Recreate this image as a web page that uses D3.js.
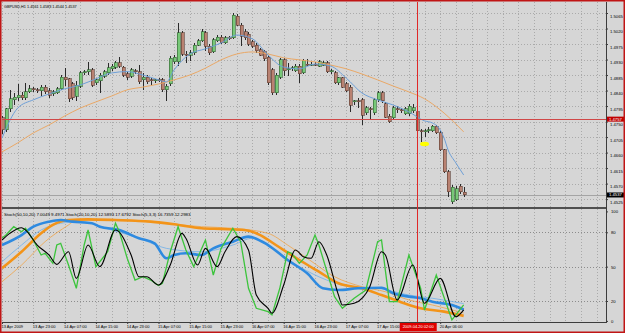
<!DOCTYPE html>
<html>
<head>
<meta charset="utf-8">
<script src="https://cdn.jsdelivr.net/npm/d3@7/dist/d3.min.js"></script>
<style>
  body { margin: 0; background: #fff; }
  svg { display: block; font-family: "Liberation Sans", "DejaVu Sans", sans-serif; }
</style>
</head>
<body>
<svg id="chart" width="625" height="333"></svg>
<script>
// GBPUSD H1 candles, one value per bar (bar 0 = 13 Apr 2009)
const opens = [1.4761,1.4726,1.4787,1.4813,1.4819,1.4827,1.4819,1.4836,1.4845,1.4842,
  1.4839,1.4850,1.4839,1.4830,1.4833,1.4845,1.4879,1.4874,1.4859,1.4824,
  1.4853,1.4891,1.4894,1.4900,1.4862,1.4868,1.4882,1.4891,1.4903,1.4908,
  1.4920,1.4908,1.4888,1.4882,1.4897,1.4894,1.4871,1.4879,1.4871,1.4868,
  1.4871,1.4871,1.4842,1.4859,1.4923,1.4923,1.5007,1.4946,1.4943,1.4949,
  1.4972,1.4984,1.5007,1.4969,1.4952,1.4984,1.4995,1.4978,1.4993,1.4993,
  1.5056,1.5030,1.5010,1.5004,1.4981,1.4972,1.4958,1.4952,1.4937,1.4900,
  1.4833,1.4879,1.4929,1.4900,1.4903,1.4897,1.4911,1.4891,1.4917,1.4914,
  1.4917,1.4911,1.4914,1.4920,1.4894,1.4891,1.4862,1.4877,1.4859,1.4850,
  1.4807,1.4810,1.4813,1.4775,1.4787,1.4775,1.4813,1.4833,1.4801,1.4766,
  1.4761,1.4787,1.4784,1.4772,1.4772,1.4781,1.4778,1.4723,1.4720,1.4723,
  1.4723,1.4737,1.4717,1.4668,1.4604,1.4517,1.4523,1.4563,1.4545];
const highs = [1.4766,1.4790,1.4842,1.4833,1.4859,1.4836,1.4862,1.4856,1.4850,1.4848,
  1.4856,1.4856,1.4848,1.4842,1.4850,1.4885,1.4905,1.4877,1.4865,1.4868,
  1.4897,1.4900,1.4923,1.4906,1.4877,1.4891,1.4900,1.4920,1.4917,1.4926,
  1.4937,1.4911,1.4894,1.4906,1.4903,1.4914,1.4891,1.4885,1.4877,1.4874,
  1.4877,1.4877,1.4859,1.4940,1.4943,1.5036,1.5013,1.4955,1.4958,1.4978,
  1.4990,1.5019,1.5013,1.4975,1.4993,1.5001,1.5001,1.4998,1.4998,1.5065,
  1.5062,1.5036,1.5019,1.5010,1.4987,1.4978,1.4964,1.4958,1.4943,1.4906,
  1.4891,1.4935,1.4935,1.4920,1.4911,1.4917,1.4917,1.4932,1.4932,1.4923,
  1.4923,1.4929,1.4926,1.4926,1.4903,1.4897,1.4879,1.4879,1.4865,1.4856,
  1.4813,1.4819,1.4819,1.4795,1.4792,1.4819,1.4839,1.4839,1.4807,1.4772,
  1.4795,1.4795,1.4790,1.4792,1.4801,1.4801,1.4790,1.4729,1.4729,1.4734,
  1.4740,1.4740,1.4723,1.4671,1.4610,1.4566,1.4563,1.4569,1.4561];
const lows = [1.4714,1.4720,1.4778,1.4798,1.4810,1.4813,1.4813,1.4833,1.4836,1.4833,
  1.4824,1.4830,1.4819,1.4824,1.4830,1.4842,1.4853,1.4807,1.4813,1.4810,
  1.4848,1.4885,1.4885,1.4850,1.4856,1.4833,1.4877,1.4885,1.4897,1.4903,
  1.4906,1.4879,1.4871,1.4877,1.4888,1.4859,1.4842,1.4859,1.4856,1.4862,
  1.4865,1.4836,1.4810,1.4853,1.4917,1.4911,1.4940,1.4920,1.4926,1.4943,
  1.4969,1.4981,1.4955,1.4943,1.4949,1.4981,1.4975,1.4975,1.4987,1.4990,
  1.5027,1.4969,1.4987,1.4969,1.4964,1.4949,1.4940,1.4926,1.4856,1.4827,
  1.4827,1.4874,1.4882,1.4882,1.4897,1.4894,1.4862,1.4888,1.4911,1.4911,
  1.4911,1.4908,1.4911,1.4891,1.4888,1.4859,1.4856,1.4848,1.4836,1.4778,
  1.4798,1.4790,1.4740,1.4769,1.4755,1.4769,1.4807,1.4804,1.4761,1.4746,
  1.4755,1.4775,1.4775,1.4769,1.4766,1.4775,1.4717,1.4691,1.4705,1.4717,
  1.4720,1.4714,1.4665,1.4601,1.4531,1.4511,1.4520,1.4540,1.4530];
const closes = [1.4726,1.4787,1.4816,1.4821,1.4827,1.4819,1.4836,1.4845,1.4842,1.4839,
  1.4850,1.4836,1.4827,1.4836,1.4845,1.4879,1.4871,1.4816,1.4819,1.4856,
  1.4891,1.4894,1.4900,1.4856,1.4871,1.4885,1.4894,1.4906,1.4911,1.4920,
  1.4911,1.4885,1.4879,1.4900,1.4894,1.4865,1.4879,1.4865,1.4869,1.4871,
  1.4870,1.4842,1.4853,1.4934,1.4937,1.5007,1.4946,1.4943,1.4949,1.4972,
  1.4984,1.5010,1.4969,1.4949,1.4987,1.4995,1.4978,1.4993,1.4990,1.5059,
  1.5030,1.4998,1.4993,1.4975,1.4969,1.4955,1.4943,1.4932,1.4862,1.4833,
  1.4885,1.4929,1.4897,1.4903,1.4906,1.4911,1.4888,1.4926,1.4914,1.4917,
  1.4914,1.4923,1.4920,1.4894,1.4897,1.4862,1.4877,1.4850,1.4839,1.4798,
  1.4810,1.4807,1.4769,1.4790,1.4784,1.4813,1.4833,1.4810,1.4763,1.4749,
  1.4790,1.4784,1.4781,1.4787,1.4795,1.4790,1.4723,1.4720,1.4723,1.4726,
  1.4737,1.4717,1.4668,1.4604,1.4546,1.4560,1.4555,1.4546,1.4537];

// moving averages, [bar, price]
const maFast = [[0,1.4702],[4,1.4789],[8,1.4813],[12,1.4830],[16,1.4845],[20,1.4856],[24,1.4874],
  [28,1.4891],[32,1.4895],[36,1.4885],[40,1.4871],[42,1.4865],[44,1.4900],[48,1.4946],[52,1.4961],
  [56,1.4978],[60,1.5001],[64,1.4990],[68,1.4943],[72,1.4908],[76,1.4903],[80,1.4917],[84,1.4911],
  [88,1.4876],[92,1.4833],[96,1.4813],[100,1.4798],[104,1.4778],[108,1.4752],[110,1.4746],
  [112,1.4726],[113,1.4702],[114,1.4668],[116,1.4630],[118,1.4595]];
const maSlow = [[0,1.4662],[4,1.4688],[8,1.4717],[12,1.4740],[16,1.4766],[20,1.4789],[24,1.4807],
  [28,1.4824],[32,1.4842],[36,1.4850],[40,1.4859],[44,1.4871],[48,1.4885],[52,1.4905],[56,1.4929],
  [60,1.4946],[64,1.4952],[68,1.4946],[72,1.4935],[76,1.4929],[80,1.4923],[84,1.4914],[88,1.4903],
  [92,1.4888],[96,1.4871],[100,1.4853],[104,1.4836],[108,1.4816],[112,1.4784],[116,1.4743],[118,1.4720]];

// stochastics, [bar, value]
const stochSlowMain = [[0,48.6],[5,63],[10,79.1],[13,86.4],[17,90.7],[22,91.3],[29,90.7],[38,89.3],
  [44,87],[51,83.5],[56,82.9],[62,82],[66,77.6],[70,68.9],[76,55.8],[81,45.6],[86,35.5],[92,31.1],
  [97,25.2],[102,19],[107,13.6],[113,10.7],[118,7.0]];
const stochSlowSig = [[0,36.9],[5,51.4],[11,71.8],[17,86.4],[19,90.7],[38,89],[51,84.9],[59,83.5],
  [68,79.1],[73,68.9],[78,57.3],[85,41.2],[92,32.5],[98,28.1],[104,20.9],[110,16.5],[118,9.5]];
const stochMidMain = [[0,68.9],[5,77.6],[8,84.9],[12,89.3],[15,90.7],[18,89.3],[23,87.9],[25,84.9],
  [30,82],[35,74.8],[39,70.4],[42,57.3],[44,60.2],[47,61.7],[51,60.2],[54,66],[59,71.8],[63,76.2],
  [68,68.9],[73,55.8],[78,44.2],[82,31.1],[86,29.6],[91,31.1],[97,31.6],[100,26.7],[104,23.8],
  [107,22.4],[110,19.4],[115,16.5],[118,12.6]];
const stochMidSig = [[0,54.3],[5,68.9],[10,82],[15,87.9],[20,89.3],[28,82],[35,74.8],[42,66],[51,63],
  [59,68.9],[64,74.8],[69,66],[76,50],[83,38.3],[89,32.5],[96,31.1],[104,25.2],[110,22.4],[118,17.7]];
const stochFastMain = [[0,75],[1,77.6],[3,84.9],[5,80.5],[6,83.5],[8,73.3],[10,60.2],[11,61.7],
  [13,52.9],[14,68.9],[15,70.4],[17,51.4],[19,31.1],[21,68.9],[22,82],[24,50],[27,63],[29,87.9],
  [30,80.5],[32,57.3],[34,38.3],[36,41.2],[38,38.3],[40,33.5],[41,35.5],[43,63],[45,84.9],[47,64.5],
  [49,50],[52,73.3],[54,42.7],[56,66],[59,83.5],[61,71.8],[63,31.1],[65,13.6],[68,10.7],[69,7.8],
  [71,31.1],[73,63],[74,61.7],[76,52.9],[78,60.2],[80,77.6],[81,68.9],[85,23.8],[87,13.6],[90,22.4],
  [93,29.6],[96,71.8],[97,73.3],[99,19.4],[101,19.4],[104,60.2],[107,31.1],[108,12.1],[111,42.7],
  [115,3.4],[118,16.7]];
const stochFastSig = [[0,73.3],[2,79.1],[5,84],[6,82],[9,68.9],[12,60.2],[14,52],[17,63],[19,39.8],
  [22,68.9],[25,50],[29,82],[33,60.2],[35,41.2],[37,41.2],[40,34],[43,51.4],[46,79.1],[47,74.8],
  [50,51.4],[52,66],[55,50],[57,63],[60,76.2],[63,64.5],[65,25.2],[68,13.6],[69,9.3],[72,34],
  [75,64.5],[77,58.7],[79,57.3],[81,71.8],[83,60.2],[86,25.2],[87,16.5],[90,18],[94,32.5],[97,63],
  [98,60.2],[101,20.9],[105,51.4],[108,18],[112,39.8],[116,6.3],[118,12.3]];

const priceTicks = [1.5065,1.5020,1.4975,1.4930,1.4885,1.4840,1.4795,1.4750,1.4705,1.4660,1.4615,1.4570,1.4525];
const stochTicks = [100,80,50,20,0];
const stochLevels = [80,50,20];
// the 17 Apr 23:00 label (bar 104) sits under the crosshair time box and is not shown
const timeLabelBars = [0,8,16,24,32,40,48,56,64,72,80,88,96,112];
const timeLabels = ["13 Apr 2009","13 Apr 23:00","14 Apr 07:00","14 Apr 15:00","14 Apr 23:00",
  "15 Apr 07:00","15 Apr 15:00","15 Apr 23:00","16 Apr 07:00","16 Apr 15:00","16 Apr 23:00",
  "17 Apr 07:00","17 Apr 15:00","20 Apr 06:00"];
const gridEvery = 4;

const titleText = "GBPUSD,H1 1.4561 1.4583 1.4544 1.4537";
const stochLegend = "Stoch(50,10,20) 7.0049 9.4971  Stoch(20,10,20) 12.5893 17.6792  Stoch(5,3,3) 16.7359 12.2983";
const bidPrice = 1.4537;
const crossPrice = 1.4757;
const crossBar = 106;
const crossTime = "2009.04.20 02:00";
const markBar = 108, markPrice = 1.4685;

// ---- layout ----
const W = 625, H = 333;
const left = 2, right = 606;
const mainTop = 2, mainBottom = 207;
const subTop = 209, subBottom = 322;
const step = 3.9125;
const visibleBars = Math.floor((right - left) / step);

const x = d3.scaleLinear().domain([0, visibleBars]).range([left, left + visibleBars * step]);
const y = d3.scaleLinear().domain([1.4525, 1.5065]).range([199.1, 13]);
const ys = d3.scaleLinear().domain([0, 100]).range([323.9, 209.4]);

const svg = d3.select("#chart");
svg.append("rect").attr("width", W).attr("height", H).attr("fill", "#d6d6d6");

const defs = svg.append("defs");
defs.append("clipPath").attr("id", "clipMain").append("rect")
  .attr("x", left).attr("y", mainTop).attr("width", right - left).attr("height", mainBottom - mainTop);
defs.append("clipPath").attr("id", "clipSub").append("rect")
  .attr("x", left).attr("y", subTop).attr("width", right - left).attr("height", subBottom - subTop);

// grid
const gridColor = "#aaaaaa";
const vBars = d3.range(0, visibleBars + 1, gridEvery);
const grid = svg.append("g").attr("stroke", gridColor).attr("stroke-dasharray", "1,2")
  .attr("shape-rendering", "crispEdges");
grid.selectAll(".vg").data(vBars).join("line")
  .attr("x1", d => Math.round(x(d)) + 0.5).attr("x2", d => Math.round(x(d)) + 0.5)
  .attr("y1", mainTop).attr("y2", mainBottom);
grid.selectAll(".vg2").data(vBars).join("line")
  .attr("x1", d => Math.round(x(d)) + 0.5).attr("x2", d => Math.round(x(d)) + 0.5)
  .attr("y1", subTop).attr("y2", subBottom);
grid.selectAll(".hg").data(priceTicks).join("line")
  .attr("x1", left).attr("x2", right)
  .attr("y1", d => Math.round(y(d)) + 0.5).attr("y2", d => Math.round(y(d)) + 0.5);
grid.selectAll(".sg").data(stochLevels).join("line")
  .attr("x1", left).attr("x2", right)
  .attr("y1", d => Math.round(ys(d)) + 0.5).attr("y2", d => Math.round(ys(d)) + 0.5)
  .attr("stroke", "#8c8c8c");

// main panel
const main = svg.append("g").attr("clip-path", "url(#clipMain)");

// bid line
main.append("line").attr("x1", left).attr("x2", right)
  .attr("y1", Math.round(y(bidPrice)) + 0.5).attr("y2", Math.round(y(bidPrice)) + 0.5)
  .attr("stroke", "#a4a4a4");

const bars = d3.range(opens.length);
const candles = main.append("g").attr("shape-rendering", "crispEdges");
candles.selectAll(".wick").data(bars).join("line")
  .attr("x1", i => Math.round(x(i)) + 0.5).attr("x2", i => Math.round(x(i)) + 0.5)
  .attr("y1", i => y(highs[i])).attr("y2", i => y(lows[i]))
  .attr("stroke", "#2a2a2a");
candles.selectAll(".body").data(bars).join("rect")
  .attr("x", i => Math.round(x(i)) - 1)
  .attr("y", i => Math.min(y(opens[i]), y(closes[i])))
  .attr("width", 3)
  .attr("height", i => Math.max(1, Math.abs(y(opens[i]) - y(closes[i]))))
  .attr("fill", i => closes[i] >= opens[i] ? "#78c878" : "#b98272")
  .attr("stroke", i => closes[i] >= opens[i] ? "#2f5f2f" : "#5a3a30")
  .attr("stroke-width", 0.6);

const maLine = d3.line().x(d => x(d[0])).y(d => y(d[1])).curve(d3.curveMonotoneX);
main.append("path").attr("d", maLine(maSlow)).attr("fill", "none").attr("stroke", "#eaa866").attr("stroke-width", 1);
main.append("path").attr("d", maLine(maFast)).attr("fill", "none").attr("stroke", "#6d9fd6").attr("stroke-width", 1);

// yellow marker
main.append("ellipse").attr("cx", x(markBar)).attr("cy", y(markPrice))
  .attr("rx", 4.5).attr("ry", 2.2).attr("fill", "#ffff00");

// crosshair horizontal
main.append("line").attr("x1", left).attr("x2", right)
  .attr("y1", Math.round(y(crossPrice)) + 0.5).attr("y2", Math.round(y(crossPrice)) + 0.5)
  .attr("stroke", "#d04848").attr("shape-rendering", "crispEdges");

main.append("text").attr("x", 4).attr("y", 8).attr("font-size", 3.8).attr("fill", "#000").text(titleText);

// stochastic panel
const sub = svg.append("g").attr("clip-path", "url(#clipSub)");
const sLine = d3.line().x(d => x(d[0])).y(d => ys(d[1]));
const sSmooth = d3.line().x(d => x(d[0])).y(d => ys(d[1])).curve(d3.curveMonotoneX);
sub.append("path").attr("d", sSmooth(stochSlowSig)).attr("fill", "none").attr("stroke", "#f0a348").attr("stroke-width", 0.8);
sub.append("path").attr("d", sSmooth(stochMidSig)).attr("fill", "none").attr("stroke", "#6fb0ea").attr("stroke-width", 0.8);
sub.append("path").attr("d", sSmooth(stochSlowMain)).attr("fill", "none").attr("stroke", "#f39419").attr("stroke-width", 2.6);
sub.append("path").attr("d", sSmooth(stochMidMain)).attr("fill", "none").attr("stroke", "#2e8ae0").attr("stroke-width", 2.6);
sub.append("path").attr("d", sLine(stochFastMain)).attr("fill", "none").attr("stroke", "#3cc43c").attr("stroke-width", 1.3);
sub.append("path").attr("d", sSmooth(stochFastSig)).attr("fill", "none").attr("stroke", "#000").attr("stroke-width", 1.1);
sub.append("text").attr("x", 4).attr("y", 215.5).attr("font-size", 4.4).attr("fill", "#000").text(stochLegend);

// frames
const frame = svg.append("g").attr("shape-rendering", "crispEdges");
frame.append("rect").attr("x", left).attr("y", mainBottom).attr("width", right - left).attr("height", subTop - mainBottom).attr("fill", "#505050");
frame.append("line").attr("x1", left).attr("x2", right).attr("y1", subBottom + 0.5).attr("y2", subBottom + 0.5).attr("stroke", "#3c3c3c");
frame.append("line").attr("x1", right + 0.5).attr("x2", right + 0.5).attr("y1", mainTop).attr("y2", subBottom + 1).attr("stroke", "#3c3c3c");

// crosshair vertical
svg.append("line").attr("x1", Math.round(x(crossBar)) + 0.5).attr("x2", Math.round(x(crossBar)) + 0.5)
  .attr("y1", mainTop).attr("y2", subBottom).attr("stroke", "#e02828").attr("shape-rendering", "crispEdges");

// price axis (labels sit just under their grid line, as in the terminal)
const pAxis = svg.append("g").attr("transform", `translate(${right},0)`)
  .call(d3.axisRight(y).tickValues(priceTicks).tickFormat(d3.format(".4f")).tickSize(2));
pAxis.select(".domain").remove();
pAxis.selectAll("line").attr("stroke", "#3c3c3c");
pAxis.selectAll("text").attr("font-size", 4.2).attr("x", 4).attr("dy", "1.0em").attr("fill", "#000");

const sAxis = svg.append("g").attr("transform", `translate(${right},0)`)
  .call(d3.axisRight(ys).tickValues(stochTicks).tickSize(2));
sAxis.select(".domain").remove();
sAxis.selectAll("line").attr("stroke", "#3c3c3c");
sAxis.selectAll("text").attr("font-size", 4.2).attr("x", 5).attr("fill", "#000");
sAxis.selectAll(".tick").filter(d => d === 100).attr("transform", `translate(0,${ys(100) + 2.5})`);
sAxis.selectAll(".tick").filter(d => d === 0).attr("transform", `translate(0,${ys(0) - 2.5})`);

// price tags
function tag(price, fill, color) {
  const g = svg.append("g");
  const yy = y(price);
  g.append("rect").attr("x", right + 1).attr("y", yy - 2.5).attr("width", 17).attr("height", 5).attr("fill", fill);
  g.append("text").attr("x", right + 3).attr("y", yy).attr("dy", "0.35em")
    .attr("font-size", 4.2).attr("fill", color).text(d3.format(".4f")(price));
}
tag(crossPrice, "#c00000", "#fff");
tag(bidPrice, "#000", "#fff");

// time axis
const tAxis = svg.append("g").attr("transform", `translate(0,${subBottom})`)
  .call(d3.axisBottom(x).tickValues(timeLabelBars).tickFormat((d, i) => timeLabels[i]).tickSize(2));
tAxis.select(".domain").remove();
tAxis.selectAll("line").attr("stroke", "#3c3c3c");
tAxis.selectAll("text").attr("font-size", 4).attr("text-anchor", "start").attr("x", -1).attr("y", 3).attr("fill", "#000");

const cx = x(crossBar);
svg.append("rect").attr("x", cx - 17).attr("y", subBottom + 1).attr("width", 37).attr("height", 8).attr("fill", "#e00000");
svg.append("text").attr("x", cx + 1.5).attr("y", subBottom + 5).attr("dy", "0.35em").attr("text-anchor", "middle")
  .attr("font-size", 4).attr("fill", "#fff").text(crossTime);

// window border
svg.append("rect").attr("x", 0.75).attr("y", 0.75).attr("width", W - 1.5).attr("height", H - 1.5)
  .attr("fill", "none").attr("stroke", "#c01515").attr("stroke-width", 1.5);
</script>
</body>
</html>
